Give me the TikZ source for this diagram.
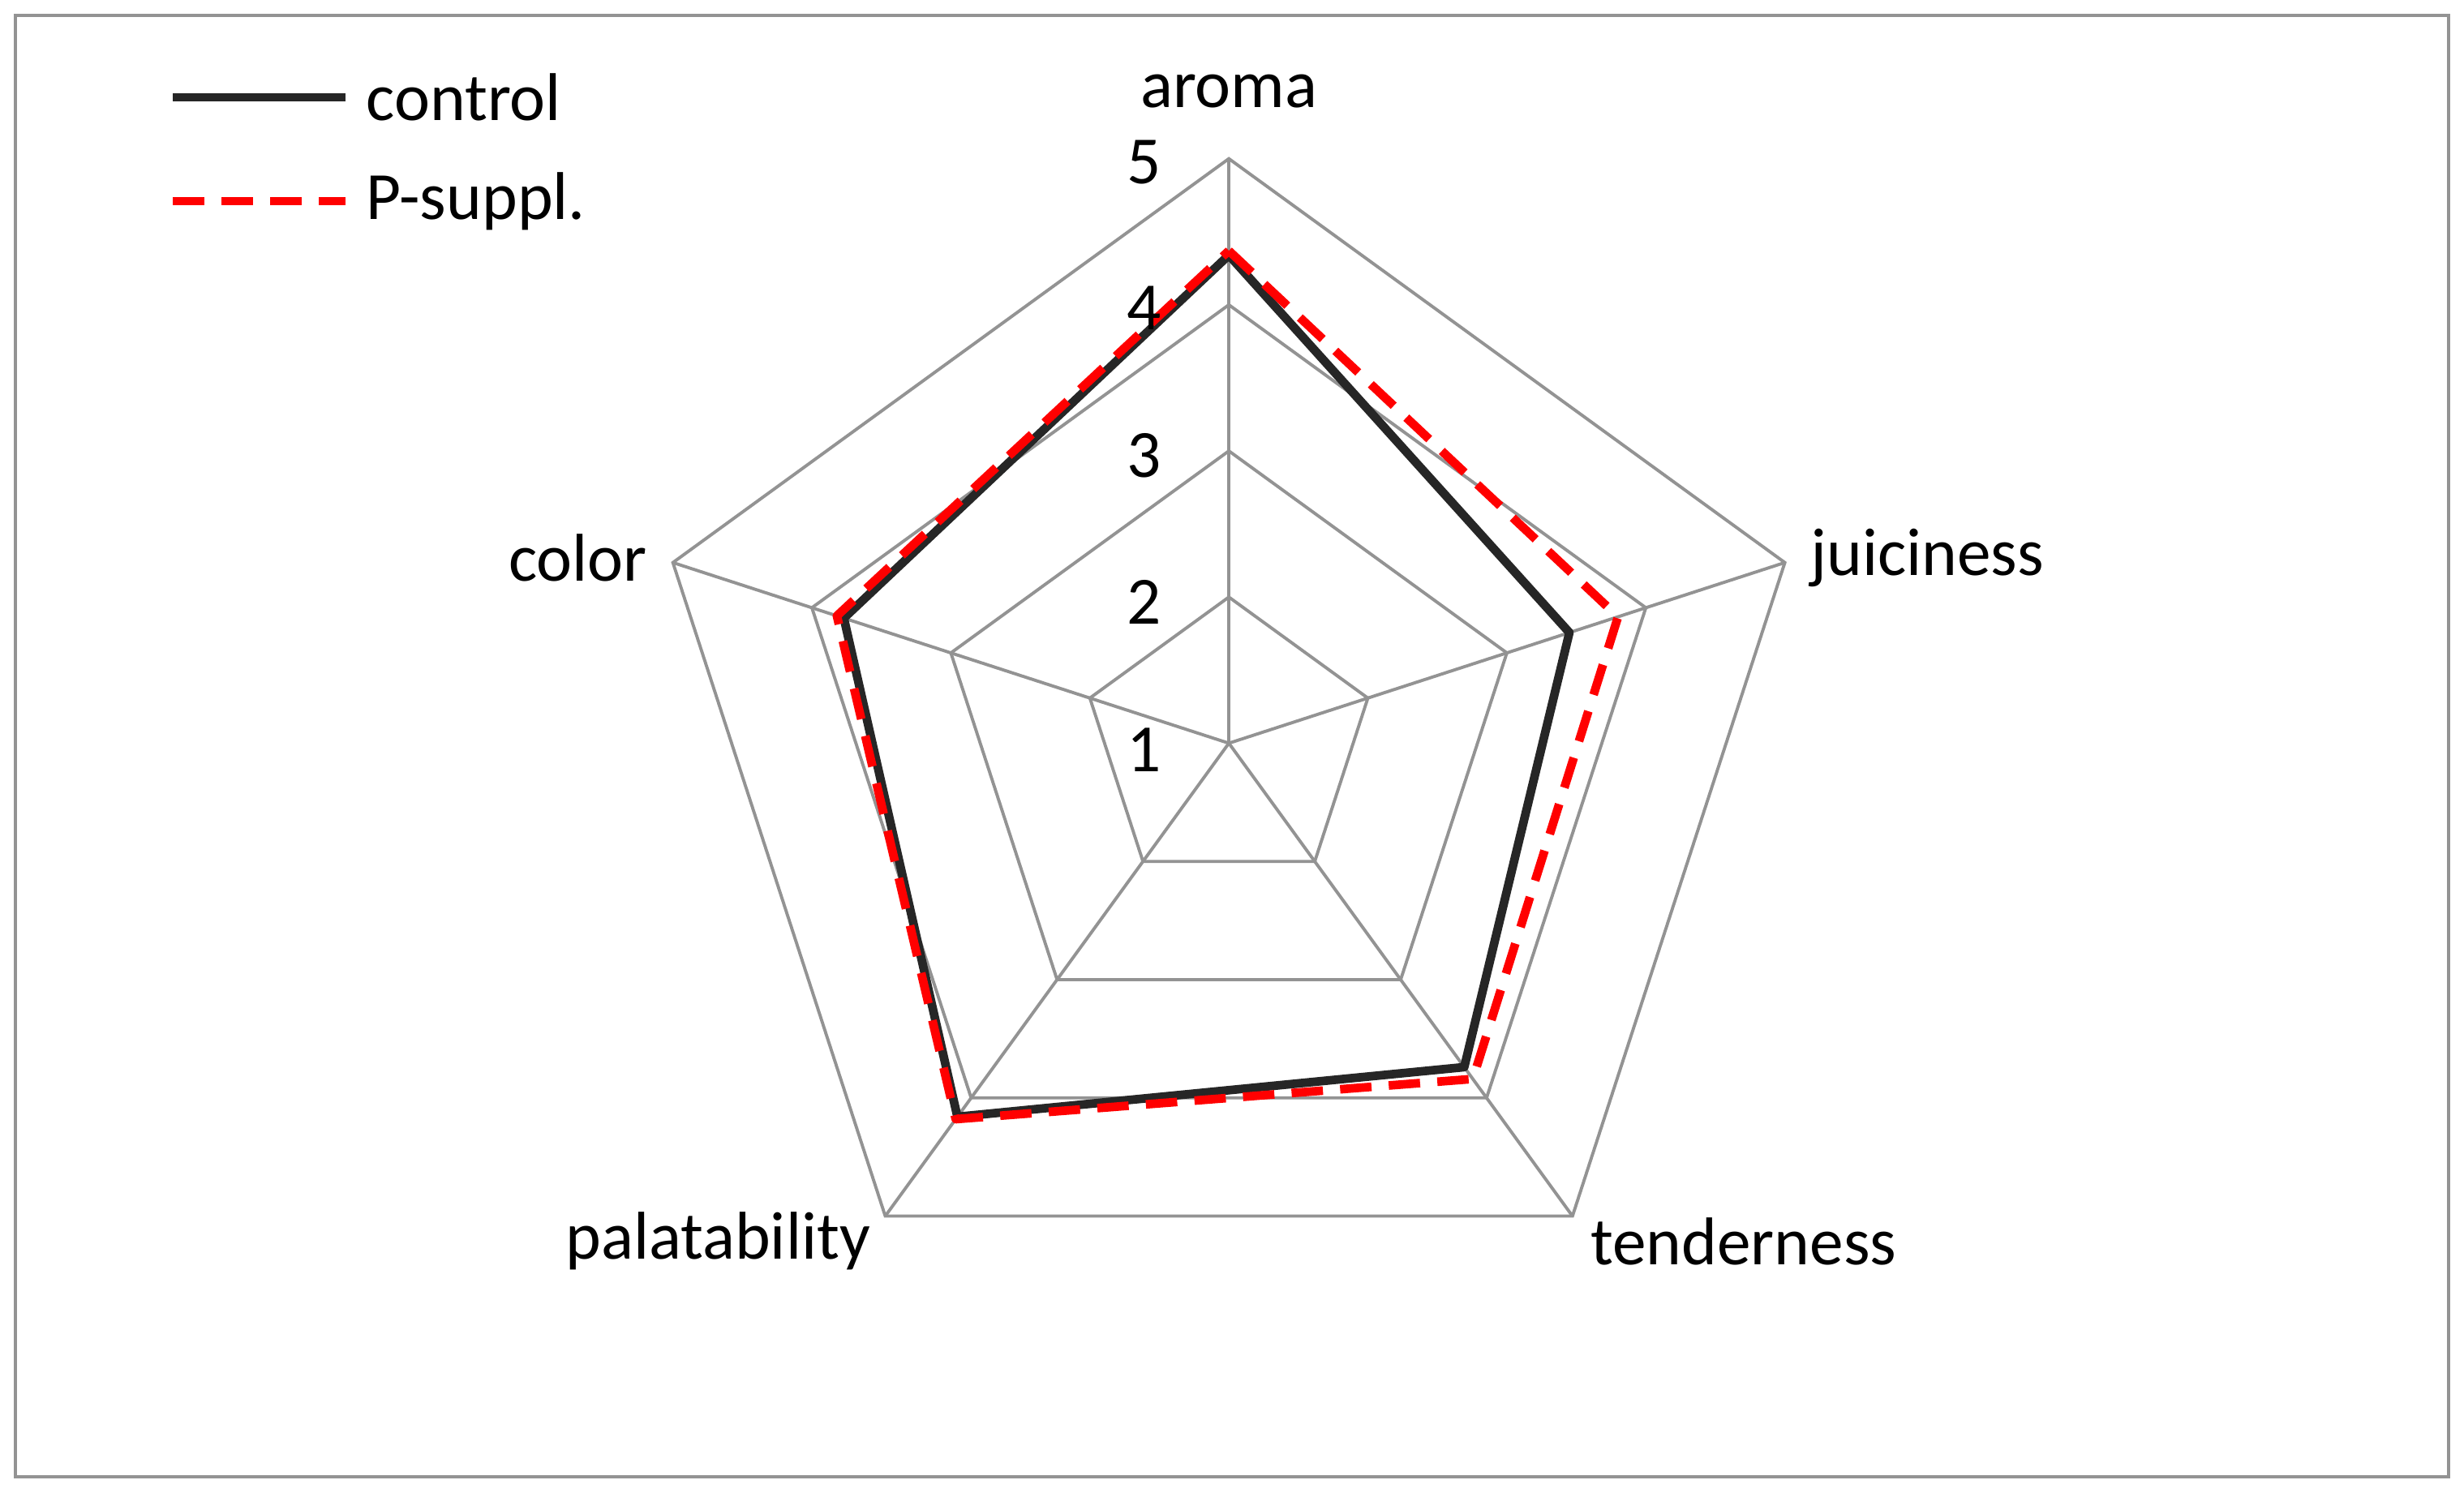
\documentclass[tikz,border=0pt]{standalone}
\usepackage{fontspec}
\setmainfont{Carlito}
\usetikzlibrary{calc}
\begin{document}
\begin{tikzpicture}[x=1pt,y=-1pt,
  grid/.style={draw=gray!85,line width=2pt},
  ctrl/.style={draw=black!85,line width=5.5pt,line join=round},
  supp/.style={draw=red,line width=5.5pt,dash pattern=on 20pt off 11pt,line join=round},
  lbl/.style={font=\fontsize{43}{50}\selectfont,inner sep=0pt},
  tick/.style={font=\fontsize{43}{50}\selectfont,inner sep=0pt}]
\draw[draw=gray!85,line width=2pt,fill=white] (10,10) rectangle (1558,940);
\useasboundingbox (0,0) rectangle (1568,950);
\coordinate (O) at (782,473);
\foreach \r in {93,186,279,372}{
  \draw[grid] ($(O)+(0,-\r)$) -- ($(O)+({\r*cos(18)},{-\r*sin(18)})$) -- ($(O)+({\r*cos(54)},{\r*sin(54)})$) -- ($(O)+({-\r*cos(54)},{\r*sin(54)})$) -- ($(O)+({-\r*cos(18)},{-\r*sin(18)})$) -- cycle;
}
\foreach \a in {90,18,-54,-126,162}
  \draw[grid] (O) -- ($(O)+({372*cos(\a)},{-372*sin(\a)})$);
\newcommand\radpt[3]{\coordinate (#1) at ($(O)+({(#3-1)*93*cos(#2)},{-(#3-1)*93*sin(#2)})$);}
\radpt{ca}{90}{4.34}\radpt{cj}{18}{3.45}\radpt{ct}{-54}{3.74}\radpt{cp}{-126}{4.16}\radpt{cc}{162}{3.77}
\radpt{sa}{90}{4.37}\radpt{sj}{18}{3.80}\radpt{st}{-54}{3.84}\radpt{sp}{-126}{4.18}\radpt{sc}{162}{3.82}
\draw[ctrl] (ca) -- (cj) -- (ct) -- (cp) -- (cc) -- cycle;
\draw[supp] (sa) -- (sj) -- (st) -- (sp) -- (sc) -- cycle;
\node[tick] (t5) at (728,103) {5};
\node[tick] (t4) at (728,196) {4};
\node[tick] (t3) at (728,290) {3};
\node[tick] (t2) at (728,383) {2};
\node[tick] (t1) at (728,477) {1};
\node[lbl] (la) at (782,58) {aroma};
\node[lbl,anchor=west] (lj) at (1152,355) {juiciness};
\node[lbl,anchor=east] (lc) at (412,355) {color};
\node[lbl,anchor=west] (lt) at (1012,790) {tenderness};
\node[lbl,anchor=east] (lp) at (554,790) {palatability};
\coordinate (l1a) at (110,62); \coordinate (l1b) at (220,62);
\coordinate (l2a) at (110,128); \coordinate (l2b) at (220,128);
\draw[ctrl] (l1a) -- (l1b);
\draw[supp] (l2a) -- (l2b);
\node[lbl,anchor=west] (g1) at (233,62) {control};
\node[lbl,anchor=west] (g2) at (233,128) {P-suppl.};
\end{tikzpicture}
\end{document}
